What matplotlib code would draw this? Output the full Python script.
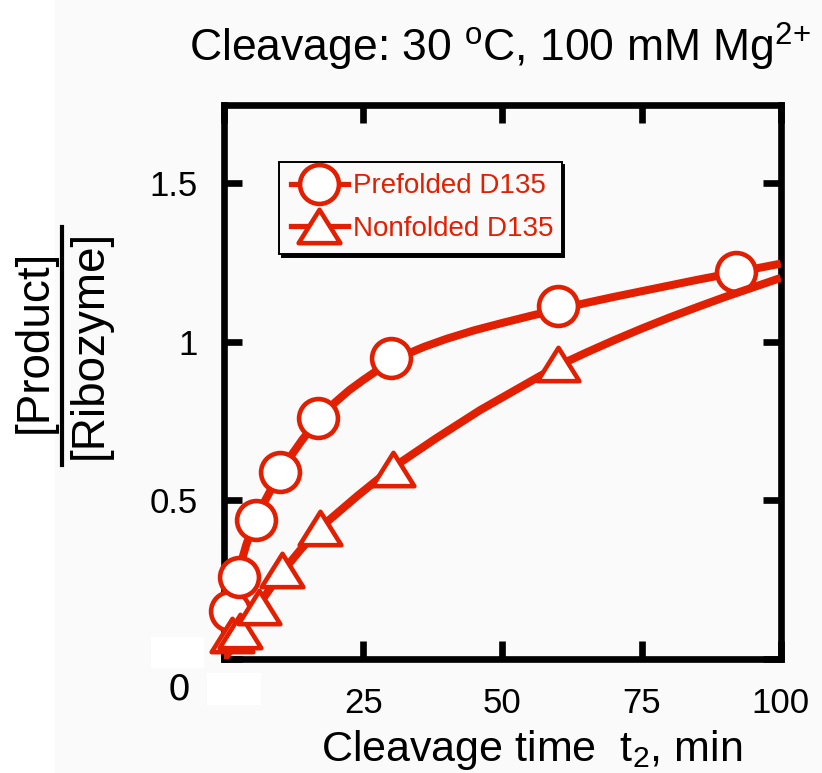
import matplotlib
matplotlib.use("Agg")
import matplotlib.pyplot as plt
from matplotlib.lines import Line2D
from matplotlib.markers import MarkerStyle
from matplotlib.patches import Rectangle
from matplotlib.path import Path

RED = "#e21f00"
BG = "#fafafa"

# cleavage time points (min) and product per ribozyme
pre_t = [1.1, 2.7, 5.8, 10.0, 16.9, 30.0, 60.0, 92.0]
pre_y = [0.152, 0.259, 0.439, 0.591, 0.760, 0.949, 1.112, 1.221]
non_t = [1.4, 2.8, 6.2, 10.5, 17.2, 30.3, 60.0]
non_y = [0.075, 0.088, 0.163, 0.281, 0.414, 0.600, 0.929]

# fitted curves
pre_fit_t = [0, 1, 2, 3, 4, 5, 6, 7, 8, 9, 10, 12, 14, 16, 18, 20, 22.5, 25, 27.5, 30,
             33, 36, 40, 45, 50, 55, 60, 65, 70, 75, 80, 85, 90, 95, 100]
pre_fit_y = [0, 0.13, 0.225, 0.30, 0.36, 0.41, 0.45, 0.487, 0.52, 0.553, 0.585, 0.64,
             0.69, 0.735, 0.775, 0.81, 0.848, 0.88, 0.91, 0.937, 0.963, 0.985, 1.01,
             1.037, 1.06, 1.082, 1.103, 1.123, 1.142, 1.16, 1.178, 1.196, 1.213, 1.23,
             1.247]
non_fit_t = [0, 2, 4, 6, 8, 10, 14, 18, 24, 30, 38, 46, 54, 60, 65, 70, 75, 80, 85, 90,
             95, 100]
non_fit_y = [0, 0.05, 0.11, 0.165, 0.215, 0.265, 0.35, 0.425, 0.515, 0.60, 0.695, 0.785,
             0.865, 0.925, 0.966, 1.005, 1.042, 1.077, 1.11, 1.142, 1.172, 1.202]

x_ticks = [0, 25, 50, 75, 100]
x_labels = ["", "25", "50", "75", "100"]
y_ticks = [0, 0.5, 1, 1.5]
y_labels = ["", "0.5", "1", "1.5"]

plt.rcParams["font.family"] = ["Liberation Sans", "DejaVu Sans"]
plt.rcParams["mathtext.default"] = "regular"

tri = MarkerStyle(Path([(-1, -0.8), (1, -0.8), (0, 0.8), (0, 0)],
                       [Path.MOVETO, Path.LINETO, Path.LINETO, Path.CLOSEPOLY]),
                  joinstyle="miter")

fig = plt.figure(figsize=(8.22, 7.73), dpi=100, facecolor=BG)
fig.patches.append(Rectangle((0, 0), 55 / 822, 1, transform=fig.transFigure,
                             facecolor="white", edgecolor="none", zorder=0))
# blanked-out corner labels
fig.patches.append(Rectangle((150.7 / 822, 1 - 668.3 / 773), 53.3 / 822, 31 / 773,
                             transform=fig.transFigure, facecolor="white",
                             edgecolor="none", zorder=0))
fig.patches.append(Rectangle((207.3 / 822, 1 - 705 / 773), 53.4 / 822, 31.7 / 773,
                             transform=fig.transFigure, facecolor="white",
                             edgecolor="none", zorder=0))

ax = fig.add_axes([0.2725, 0.1475, 0.6773, 0.7173])
ax.set_facecolor("none")

line_kw = dict(color=RED, lw=5.8, solid_capstyle="butt", solid_joinstyle="round", zorder=3)
circ_kw = dict(ls="none", marker="o", ms=28, mew=3.3, mec=RED, mfc="white",
               clip_on=False, zorder=4)
tri_kw = dict(ls="none", marker=tri, ms=30, mew=3.3, mec=RED, mfc="white",
              clip_on=False, zorder=6)

ax.plot(pre_fit_t, pre_fit_y, **line_kw)
ax.plot(pre_t, pre_y, **circ_kw)
ax.plot(non_fit_t, non_fit_y, **{**line_kw, "zorder": 5})
ax.plot(non_t, non_y, **tri_kw)

ax.set_xlim(0, 100)
ax.set_ylim(0, 1.749)
ax.set_xticks(x_ticks)
ax.set_xticklabels(x_labels, fontsize=25)
ax.set_yticks(y_ticks)
ax.set_yticklabels(y_labels, fontsize=25)
ax.tick_params(direction="in", length=13, width=4.8, top=True, right=True, color="black")
ax.tick_params(axis="x", pad=20)
ax.tick_params(axis="y", pad=19)
for sp in ax.spines.values():
    sp.set_linewidth(4.8)
    sp.set_capstyle("projecting")

handles = [
    Line2D([], [], color=RED, lw=3.8, marker="o", ms=28, mew=3.3, mec=RED, mfc="white"),
    Line2D([], [], color=RED, lw=3.8, marker=tri, ms=30, mew=3.3, mec=RED, mfc="white"),
]
leg = ax.legend(handles, ["Prefolded D135", "Nonfolded D135"],
                loc="upper left", bbox_to_anchor=(0.0988, 0.7345, 0.5078, 0.1623),
                mode="expand", borderaxespad=0, prop={"family": "Liberation Sans", "size": 20},
                labelcolor=RED, handlelength=2.05, handletextpad=0.18, borderpad=0.42,
                labelspacing=0.6, numpoints=1, fancybox=False, framealpha=1,
                edgecolor="black", facecolor=BG,
                shadow={"color": "black", "alpha": 1})
leg.get_frame().set_linewidth(1.4)
leg.set_zorder(7)

# title and axis labels
fig.text(500 / 822, 1 - 62 / 773, r"Cleavage: 30 $^{o}$C, 100 mM Mg$^{2{+}}$",
         fontsize=32, ha="center", va="baseline")
fig.text(532 / 822, 12 / 773, r"Cleavage time  $t_2$, min",
         fontsize=31, ha="center", va="baseline")
fig.text(35 / 822, 1 - 341.5 / 773, "[Product]", fontsize=33, rotation=90,
         ha="center", va="center")
fig.text(90 / 822, 1 - 344 / 773, "[Ribozyme]", fontsize=33, rotation=90,
         ha="center", va="center")
fig.add_artist(Line2D([61.7 / 822, 61.7 / 822], [1 - 226.7 / 773, 1 - 465 / 773],
                      transform=fig.transFigure, color="black", lw=3))
fig.text(179.3 / 822, 1 - 690 / 773, "0", family="DejaVu Sans", fontsize=26,
         ha="center", va="center")

fig.savefig("out.png", dpi=100, facecolor=BG)
